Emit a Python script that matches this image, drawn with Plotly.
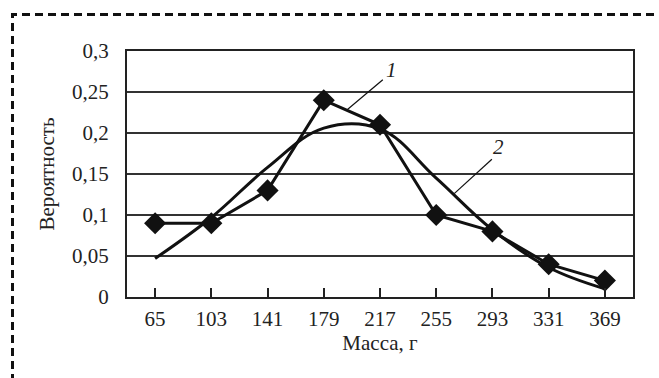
import plotly.graph_objects as go

categories = ["65", "103", "141", "179", "217", "255", "293", "331", "369"]
series1 = [0.09, 0.09, 0.13, 0.24, 0.21, 0.10, 0.08, 0.04, 0.02]
series2 = [0.047, 0.097, 0.158, 0.206, 0.205, 0.145, 0.082, 0.036, 0.010]
y_ticks = [0, 0.05, 0.1, 0.15, 0.2, 0.25, 0.3]
y_tick_labels = ["0", "0,05", "0,1", "0,15", "0,2", "0,25", "0,3"]

FONT = "Liberation Serif"
FS = 21
W, H = 659, 378
ML, MR, MT, MB = 127, 26, 51, 81
pw, ph = W - ML - MR, H - MT - MB

def px_to_paper(x, y):
    return (x - ML) / pw, (H - MB - y) / ph

fig = go.Figure()
fig.add_trace(go.Scatter(x=categories, y=series2, mode="lines",
                         line=dict(color="#111111", width=3, shape="spline", smoothing=1.1),
                         showlegend=False, hoverinfo="skip"))
fig.add_trace(go.Scatter(x=categories, y=series1, mode="lines+markers",
                         line=dict(color="#111111", width=3),
                         marker=dict(symbol="diamond", size=17, color="#111111"),
                         showlegend=False))

# leader lines and labels (data coords on category index)
fig.add_shape(type="line", xref="x", yref="y", x0=4.05, y0=0.265, x1=3.41, y1=0.228,
              line=dict(color="#111111", width=1.2))
fig.add_shape(type="line", xref="x", yref="y", x0=5.99, y0=0.168, x1=5.32, y1=0.126,
              line=dict(color="#111111", width=1.2))
fig.add_annotation(x=4.2, y=0.277, xref="x", yref="y", text="<i>1</i>", showarrow=False,
                   font=dict(family=FONT, size=FS, color="#222"))
fig.add_annotation(x=6.1, y=0.183, xref="x", yref="y", text="<i>2</i>", showarrow=False,
                   font=dict(family=FONT, size=FS, color="#222"))

# dashed outer frame
x0, y0 = px_to_paper(12.5, 14.5)
x1, y1 = px_to_paper(680, 400)
fig.add_shape(type="rect", xref="paper", yref="paper", x0=x0, y0=y1, x1=x1, y1=y0,
              line=dict(color="#111111", width=3, dash="8px,5px"), layer="above")

fig.update_layout(
    width=W, height=H,
    margin=dict(l=ML, r=MR, t=MT, b=MB),
    paper_bgcolor="white", plot_bgcolor="white",
    font=dict(family=FONT, size=FS, color="#222"),
    xaxis=dict(type="category", range=[-0.5, 8.5], showgrid=False,
               showline=True, linecolor="#222", linewidth=2, mirror=True,
               ticks="inside", ticklen=9, tickwidth=1.5, tickcolor="#222",
               ticklabelstandoff=2,
               title=dict(text="Масса, г", font=dict(family=FONT, size=FS), standoff=4),
               tickfont=dict(family=FONT, size=FS)),
    yaxis=dict(range=[0, 0.3], tickvals=y_ticks, ticktext=y_tick_labels,
               showgrid=True, gridcolor="#333", gridwidth=1.5,
               showline=True, linecolor="#222", linewidth=2, mirror=True,
               ticks="", zeroline=False, ticklabelstandoff=12,
               title=dict(text="Вероятность", font=dict(family=FONT, size=FS), standoff=12),
               tickfont=dict(family=FONT, size=FS)),
)

fig.write_html("out.html")
